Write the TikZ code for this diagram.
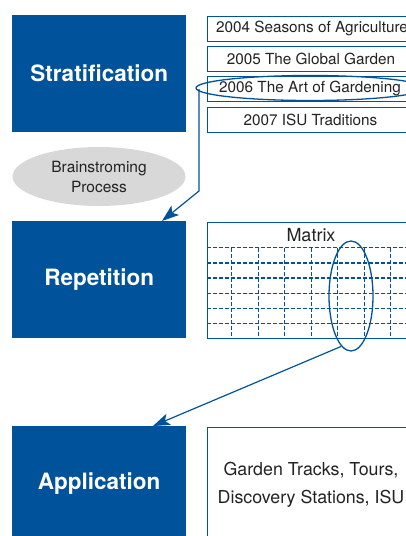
\documentclass[tikz,border=0pt]{standalone}
\usepackage{fontspec}
\setmainfont{TeX Gyre Heros}
\usetikzlibrary{arrows.meta,shapes.geometric,calc}
\definecolor{isublue}{RGB}{0,83,155}
\definecolor{txtgray}{RGB}{35,35,35}
\definecolor{ellgray}{RGB}{216,216,216}
\begin{document}
\begin{tikzpicture}[x=1pt,y=-1pt,
  bluebox/.style={fill=isublue, draw=none, text=white,
    font=\fontsize{22.5}{26}\selectfont\bfseries,
    minimum width=174pt, inner sep=0pt, anchor=north west},
  listbox/.style={draw=isublue, line width=1.4pt, fill=white,
    minimum width=208pt, minimum height=25pt, anchor=north west, inner sep=0pt},
  listtext/.style={text=txtgray, font=\fontsize{15.3}{18}\selectfont, inner sep=0pt},
  bigbox/.style={draw=isublue, line width=1.4pt, fill=white,
    minimum width=208pt, anchor=north west, inner sep=0pt},
  bigtext/.style={text=txtgray, font=\fontsize{17.8}{28.5}\selectfont, inner sep=0pt, align=center},
  ringmark/.style={draw=isublue, line width=1.3pt, ellipse, inner sep=0pt},
  gridline/.style={draw=isublue, line width=1.4pt, dash pattern=on 4pt off 2pt},
  conn/.style={draw=isublue, line width=1.2pt,
    -{Stealth[length=17pt,width=12pt,inset=4pt]}}]
\useasboundingbox (0,0) rectangle (406,536);
\clip (0,0) rectangle (406,536);

% left blue boxes
\node[bluebox, minimum height=117pt] (strat) at (12,15) {Stratification};
\node[bluebox, minimum height=117pt] (rep) at (12,221) {Repetition};
\node[bluebox, minimum height=115pt] (app) at (12,426) {Application};

% list boxes
\node[listbox] (b04) at (207,16) {};
\node[listbox] (b05) at (207,46) {};
\node[listbox] (b06) at (207,76) {};
\node[listbox] (b07) at (207,107) {};
\node[listtext] (t04) at (312,28.5) {2004 Seasons of Agriculture};
\node[listtext] (t05) at (311,58.5) {2005 The Global Garden};
\node[listtext] (t06) at (310,88.5) {2006 The Art of Gardening};
\node[listtext] (t07) at (310.5,119.5) {2007 ISU Traditions};
\node[ringmark, minimum width=228pt, minimum height=25pt] (ell1) at (310,88) {};

% brainstorming
\node[ellipse, fill=ellgray, minimum width=173pt, minimum height=59pt, inner sep=0pt,
  text=txtgray, align=center, font=\fontsize{15.5}{20}\selectfont] (brain) at (99,176.5)
  {Brainstroming\\Process};

% matrix
\node[bigbox, minimum height=116pt] (mbox) at (207,221.7) {};
\node[bigtext, font=\fontsize{18}{20}\selectfont] (mtxt) at (311,235.5) {Matrix};
\foreach \yy in {247.7,262.9,278.1,293.3,308.5,323.7}
  \draw[gridline] (207,\yy) -- (420,\yy);
\foreach \xx in {231.7,258.2,284.7,311.2,337.7,364.2,390.7}
  \draw[gridline] (\xx,247.7) -- (\xx,337);
\node[ringmark, minimum width=44pt, minimum height=110pt] (ell2) at (351,296) {};

% application
\node[bigbox, minimum height=120pt] (gbox) at (207,427) {};
\node[bigtext] (gtxt) at (311,485) {Garden Tracks, Tours,\\Discovery Stations, ISU};

% connectors
\coordinate (c1) at (199,89);
\coordinate (c1b) at (199,191);
\coordinate (r1) at (162,221);
\draw[conn] (c1) -- (c1b) -- (r1);
\coordinate (c2) at (341,346.5);
\coordinate (r2) at (153,426);
\draw[conn] (c2) -- (r2);
\end{tikzpicture}
\end{document}
